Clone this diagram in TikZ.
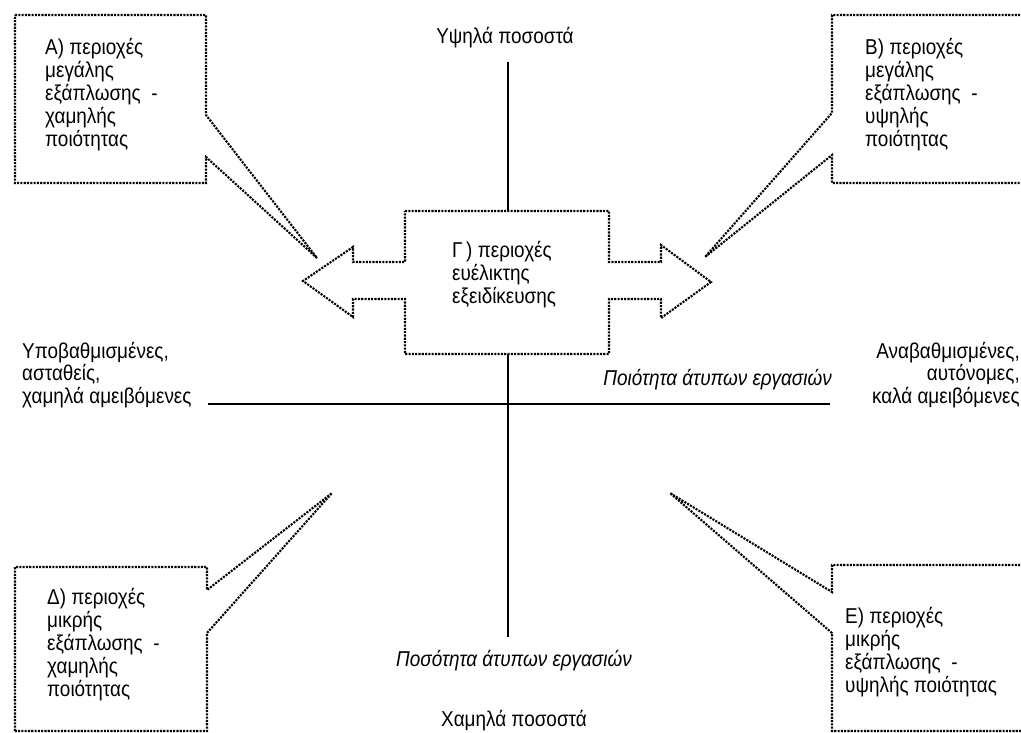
\documentclass[tikz,border=0pt]{standalone}
\usepackage{fontspec}
\setmainfont{Liberation Sans}[FakeStretch=0.88]
\begin{document}
\begin{tikzpicture}[x=1pt,y=-1pt,
  callout/.style={line width=2.1pt, dash pattern=on 2.1pt off 1.2pt, fill=white, line join=miter},
  lbl/.style={inner sep=0pt, font=\fontsize{21.5}{23}\selectfont},
  ilbl/.style={lbl, font=\fontsize{21.5}{23}\selectfont\itshape},
  axis/.style={line width=1.7pt}]
\useasboundingbox (0,0) rectangle (1021,732);
\clip (0,0) rectangle (1021,732);
\fill[white] (0,0) rectangle (1021,732);

% axes
\coordinate (vtop) at (508,62);
\coordinate (vbot) at (508,637);
\coordinate (hl) at (208,404);
\coordinate (hr) at (830,404);
\draw[axis] (vtop) -- (vbot);
\draw[axis] (hl) -- (hr);

% centre shape with double arrow
\draw[callout] (405,211) -- (609,211) -- (609,262) -- (661,262) -- (661,245) -- (711,282)
  -- (661,318) -- (661,299) -- (609,299) -- (609,354) -- (405,354) -- (405,299)
  -- (353,299) -- (353,317) -- (303,281) -- (353,247) -- (353,262) -- (405,262) -- cycle;

% callouts
\draw[callout] (15,15) -- (206,15) -- (206,115) -- (317,258) -- (206,157) -- (206,183) -- (15,183) -- cycle;
\draw[callout] (1040,15) -- (832,15) -- (832,113) -- (705,257) -- (832,155) -- (832,183) -- (1040,183);
\draw[callout] (15,731) -- (15,567) -- (207,567) -- (207,590) -- (332,493) -- (207,633) -- (207,731) -- cycle;
\draw[callout] (1040,565) -- (832,565) -- (832,592) -- (670,493) -- (832,633) -- (832,731) -- (1040,731);

% callout texts
\foreach \t [count=\i] in {Α) περιοχές, μεγάλης, εξάπλωσης\ \ -, χαμηλής, ποιότητας}
  \node[lbl, anchor=base west] (a\i) at (45,{54+23*(\i-1)}) {\t};
\foreach \t [count=\i] in {Β) περιοχές, μεγάλης, εξάπλωσης\ \ -, υψηλής, ποιότητας}
  \node[lbl, anchor=base west] (b\i) at (865,{54+23*(\i-1)}) {\t};
\foreach \t [count=\i] in {Γ\,) περιοχές, ευέλικτης, εξειδίκευσης}
  \node[lbl, anchor=base west] (g\i) at (452,{257+23*(\i-1)}) {\t};
\foreach \t [count=\i] in {Δ) περιοχές, μικρής, εξάπλωσης\ \ -, χαμηλής, ποιότητας}
  \node[lbl, anchor=base west] (d\i) at (47,{604+23*(\i-1)}) {\t};
\foreach \t [count=\i] in {Ε) περιοχές, μικρής, εξάπλωσης\ \ -, υψηλής ποιότητας}
  \node[lbl, anchor=base west] (e\i) at (845,{623+23*(\i-1)}) {\t};

% axis labels
\node[lbl, anchor=base] (high) at (505,43) {Υψηλά ποσοστά};
\node[lbl, anchor=base] (low) at (514,726) {Χαμηλά ποσοστά};
\node[ilbl, anchor=base] (qty) at (514,666) {Ποσότητα άτυπων εργασιών};
\node[ilbl, anchor=base east] (qual) at (832,385) {Ποιότητα άτυπων εργασιών};

\foreach \t [count=\i] in {Υποβαθμισμένες{,}, ασταθείς{,}, χαμηλά αμειβόμενες}
  \node[lbl, anchor=base west] (l\i) at (22,{358+22.5*(\i-1)}) {\t};
\foreach \t [count=\i] in {Αναβαθμισμένες{,}, αυτόνομες{,}, καλά αμειβόμενες}
  \node[lbl, anchor=base east] (r\i) at (1020,{358+22.5*(\i-1)}) {\t};
\end{tikzpicture}
\end{document}
